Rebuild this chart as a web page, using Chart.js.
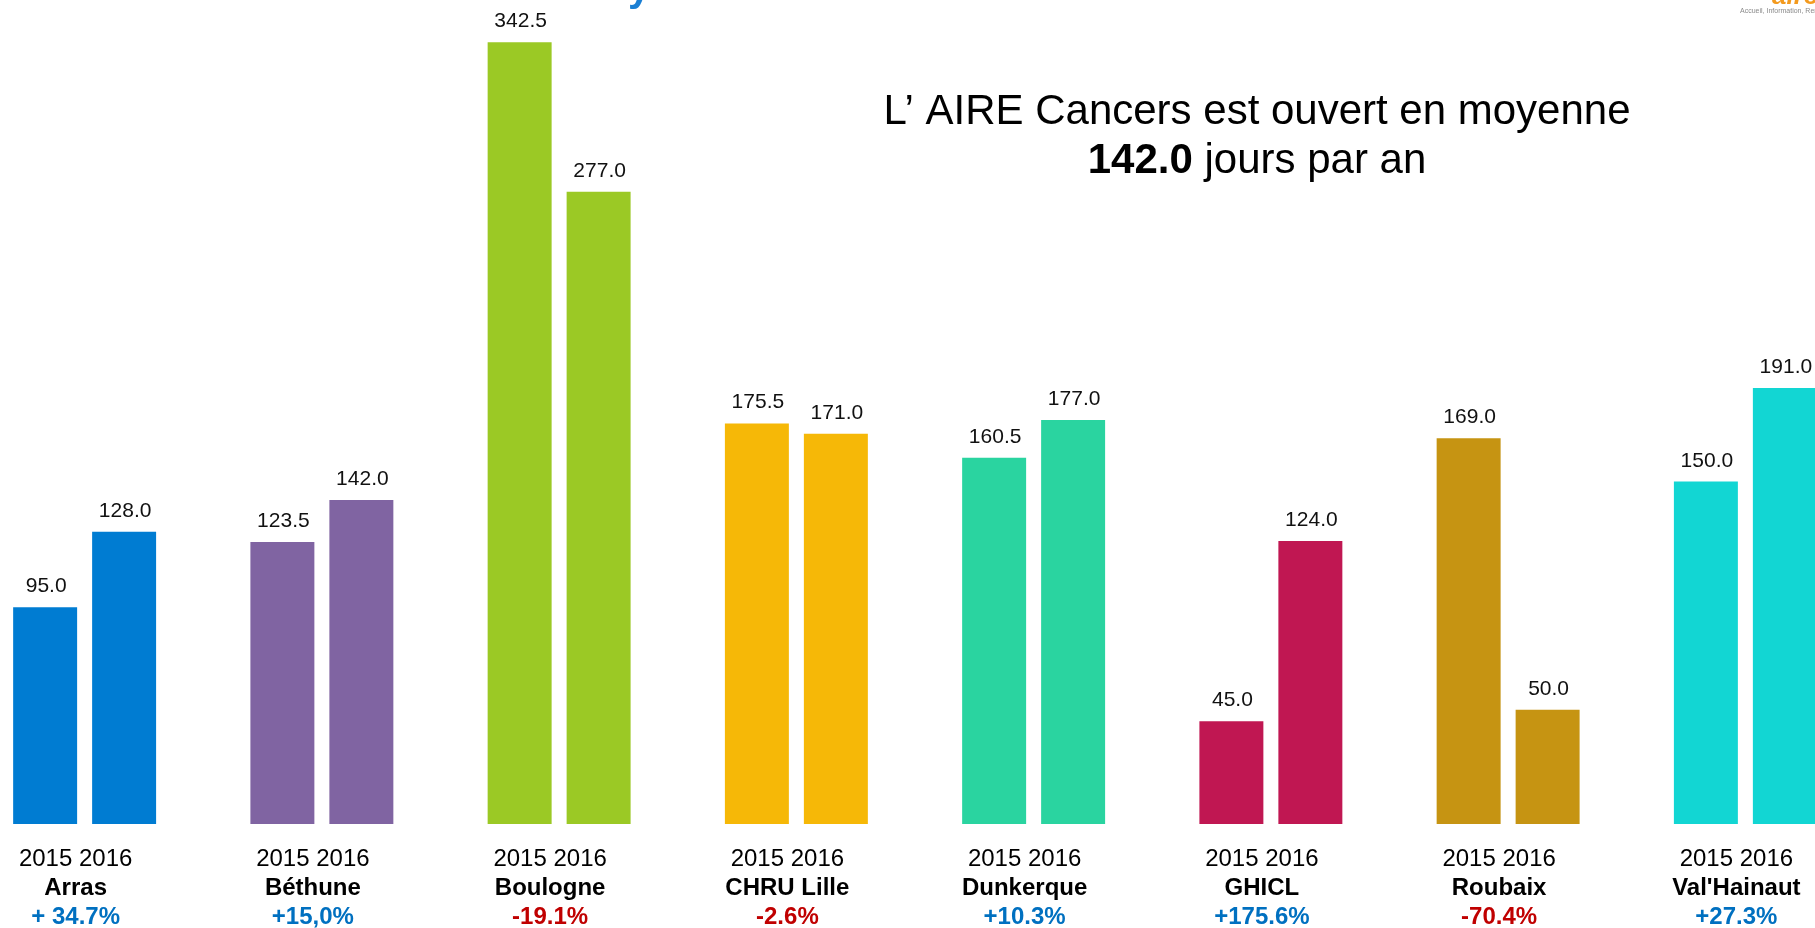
<!DOCTYPE html>
<html>
<head>
<meta charset="utf-8">
<script src="https://cdn.jsdelivr.net/npm/chart.js@4"></script>
<style>
  html, body { margin: 0; padding: 0; background: #fff; overflow: hidden; }
  #wrap { position: absolute; left: -34px; top: 0; width: 1898px; height: 928px; }
</style>
</head>
<body>
<div id="wrap"><canvas id="chart"></canvas></div>
<script>
var categories = ["Arras", "Béthune", "Boulogne", "CHRU Lille", "Dunkerque", "GHICL", "Roubaix", "Val'Hainaut"];
var yearLabels = ["2015", "2016"];
var values2015 = [95.0, 123.5, 342.5, 175.5, 160.5, 45.0, 169.0, 150.0];
var values2016 = [128.0, 142.0, 277.0, 171.0, 177.0, 124.0, 50.0, 191.0];
var changeLabels = ["+ 34.7%", "+15,0%", "-19.1%", "-2.6%", "+10.3%", "+175.6%", "-70.4%", "+27.3%"];
var titleLine1 = "L\u2019 AIRE Cancers est ouvert en moyenne";
var titleValue = "142.0";
var titleRest = " jours par an";

var barColors = ["#007cd2", "#8064a2", "#9bc925", "#f6b807", "#2ad4a0", "#c01752", "#c69412", "#12d6d3"];
var FONT = "'Liberation Sans', Arial, sans-serif";
var OFFX = 34; // canvas is shifted left by this much

var labelsPlugin = {
  id: "labels",
  afterDatasetsDraw: function (chart) {
    var ctx = chart.ctx;
    ctx.save();
    // values above bars
    ctx.font = "21px " + FONT;
    ctx.fillStyle = "#111";
    ctx.textAlign = "center";
    ctx.textBaseline = "alphabetic";
    chart.data.datasets.forEach(function (ds, di) {
      var meta = chart.getDatasetMeta(di);
      meta.data.forEach(function (bar, i) {
        ctx.fillText(ds.data[i].toFixed(1), bar.x + 1, bar.y - 15);
      });
    });

    // labels under each group
    var xs = chart.scales.x;
    categories.forEach(function (c, i) {
      var x = xs.getPixelForValue(i) - 9;
      ctx.fillStyle = "#000";
      ctx.font = "24px " + FONT;
      ctx.fillText(yearLabels.join(" "), x, 866);
      ctx.font = "bold 24px " + FONT;
      ctx.fillText(c, x, 895);
      ctx.fillStyle = values2016[i] >= values2015[i] ? "#0070c0" : "#c00000";
      ctx.fillText(changeLabels[i], x, 924);
    });

    // annotation
    var cx = 1257 + OFFX;
    ctx.fillStyle = "#000";
    ctx.font = "42px " + FONT;
    ctx.fillText(titleLine1, cx, 124);
    ctx.font = "bold 42px " + FONT;
    var w1 = ctx.measureText(titleValue).width;
    ctx.font = "42px " + FONT;
    var w2 = ctx.measureText(titleRest).width;
    var left = cx - (w1 + w2) / 2;
    ctx.textAlign = "left";
    ctx.font = "bold 42px " + FONT;
    ctx.fillText(titleValue, left, 173);
    ctx.font = "42px " + FONT;
    ctx.fillText(titleRest, left + w1, 173);

    // cropped page title and logo fragments at the top
    ctx.fillStyle = "#1a7fd4";
    ctx.font = "bold 40px " + FONT;
    ctx.fillText("y", 628 + OFFX, 1);
    ctx.fillStyle = "#f39a1e";
    ctx.font = "bold italic 26px " + FONT;
    ctx.fillText("aire", 1772 + OFFX, 4);
    ctx.fillStyle = "#8a8a8a";
    ctx.font = "7px " + FONT;
    ctx.fillText("Accueil, Information, Rencontre", 1740 + OFFX, 13);
    ctx.restore();
  }
};

var config = {
  type: "bar",
  data: {
    labels: categories,
    datasets: [
      { label: yearLabels[0], data: values2015, backgroundColor: barColors },
      { label: yearLabels[1], data: values2016, backgroundColor: barColors }
    ]
  },
  options: {
    responsive: true,
    maintainAspectRatio: false,
    animation: false,
    layout: { padding: { left: 0, right: 0, top: 0, bottom: 104 } },
    datasets: { bar: { categoryPercentage: 0.6658, barPercentage: 0.81 } },
    plugins: { legend: { display: false }, tooltip: { enabled: false } },
    scales: {
      x: { display: false, grid: { display: false } },
      y: { display: false, min: 0, max: 361, grid: { display: false } }
    }
  },
  plugins: [labelsPlugin]
};

var barchart = new Chart(document.getElementById("chart"), config);
</script>
</body>
</html>
